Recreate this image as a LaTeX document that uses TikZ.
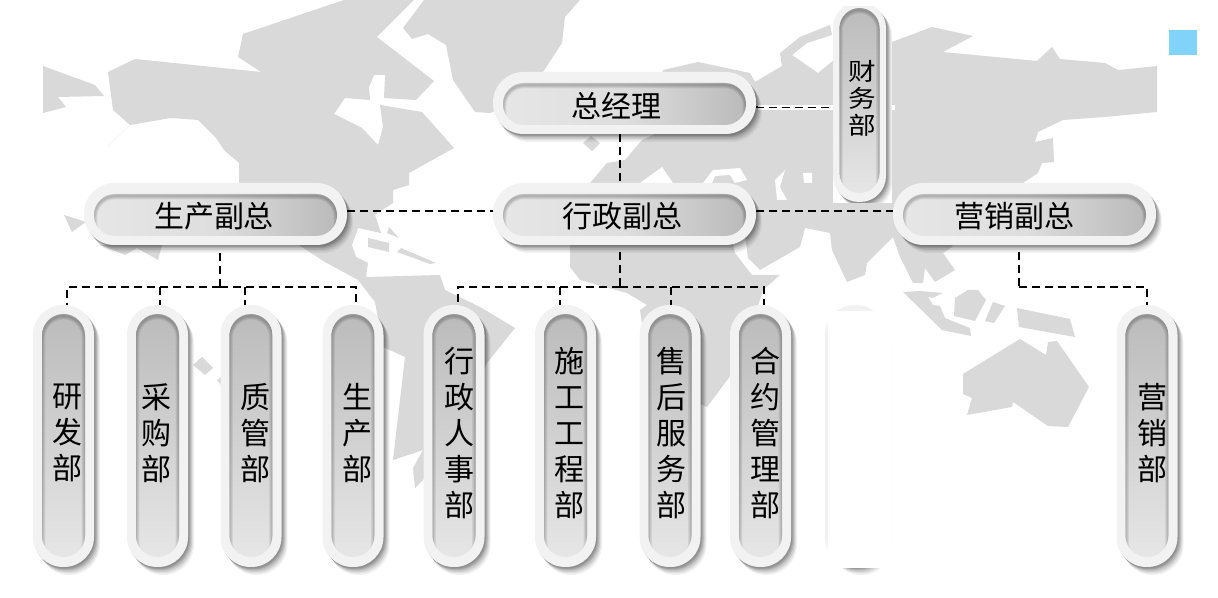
\documentclass[tikz,border=0pt]{standalone}
\usepackage{fontspec}
\newfontfamily\cjk{Noto Sans CJK SC}
\usetikzlibrary{calc}
\definecolor{mapgray}{HTML}{D9D9D9}
\definecolor{pillrim}{HTML}{F2F2F2}
\definecolor{pilllt}{HTML}{E6E6E6}
\definecolor{pilldk}{HTML}{BBBBBB}
\definecolor{tagblue}{HTML}{81D3F9}
\def\px{0.03cm}
\pgfdeclarehorizontalshading{pillh}{100bp}{rgb(0bp)=(.902,.902,.902); rgb(25bp)=(.902,.902,.902); rgb(50bp)=(.87,.87,.87); rgb(75bp)=(.73,.73,.73); rgb(100bp)=(.73,.73,.73)}
\newcommand{\pilloutline}[4]{(-#1,#2+#4) arc[start angle=180,end angle=270,radius=#4] -- (#1-#4,#2)
    arc[start angle=270,end angle=360,radius=#4] -- (#1,#3-#4)
    arc[start angle=0,end angle=90,radius=#4] -- (-#1+#4,#3)
    arc[start angle=90,end angle=180,radius=#4] -- cycle}
\newcommand{\pillface}[5]{%
    \begin{scope}[shift={(path picture bounding box.center)},rounded corners=0pt]
        \clip \pilloutline{#1}{#2}{#3}{#4};
        \fill[#5] (-#1,#2) rectangle (#1,#3);
        \foreach \k in {1,...,4}
            \draw[black,opacity=.06,line width=\k*1.7*\px] \pilloutline{#1}{#2+2}{#3+7}{#4};
    \end{scope}}
\begin{document}
\begin{tikzpicture}[
            x=\px, y=-\px,
            softshade/.style = {
                preaction={fill=black,opacity=.11,transform canvas={xshift=1*\px,yshift=-1.5*\px}},
                preaction={fill=black,opacity=.11,transform canvas={xshift=2*\px,yshift=-2.5*\px}},
                preaction={fill=black,opacity=.10,transform canvas={xshift=3*\px,yshift=-3.5*\px}},
                preaction={fill=black,opacity=.09,transform canvas={xshift=4*\px,yshift=-5*\px}},
                preaction={fill=black,opacity=.07,transform canvas={xshift=5*\px,yshift=-6.5*\px}},
                preaction={fill=black,opacity=.05,transform canvas={xshift=6*\px,yshift=-8*\px}}},
            pillhz/.style = {softshade, fill=pillrim, inner sep=0pt, rounded corners=30.5*\px,
                minimum width=263*\px, minimum height=62*\px,
                path picture={\pillface{121.5}{-20}{22}{21}{shading=pillh}}},
            pillvt/.style = {softshade, fill=pillrim, inner sep=0pt, rounded corners=30*\px,
                minimum width=61*\px, minimum height=262*\px,
                path picture={\pillface{21.5}{-122}{121}{21.5}{top color=pilldk,bottom color=pilllt}}},
            pillfin/.style = {softshade, fill=pillrim, inner sep=0pt, rounded corners=26*\px,
                minimum width=53*\px, minimum height=200*\px,
                path picture={\pillface{20}{-94}{91}{20}{top color=pilldk,bottom color=pilllt}}},
            lblhz/.style = {inner sep=0pt, font=\cjk\fontsize{25.6}{31}\selectfont},
            lblvt/.style = {inner sep=0pt, align=center, font=\cjk\fontsize{25.6}{30.7}\selectfont},
            lblfin/.style = {inner sep=0pt, align=center, xscale=1.15, transform shape, font=\cjk\fontsize{20.5}{23}\selectfont},
            link/.style = {line width=1.7*\px, dash pattern=on 8*\px off 5*\px}]
            \useasboundingbox (0,0) rectangle (1218,598);
            \fill[white] (0,0) rectangle (1218,598);
            % map
            \fill[mapgray] (43,66) -- (95,85) -- (104,96) -- (58,97) -- (66,107) -- (43,113) -- cycle;
            \fill[mapgray] (135,59) -- (261,72) -- (238,57) -- (243,34) -- (344,0) -- (414,0) -- (377,37)
                -- (434,81) -- (416,100) -- (384,98) -- (385,75) -- (374,75) -- (369,87) -- (370,100)
                -- (345,98) -- (334,114) -- (362,128) -- (378,145) -- (383,127) -- (380,105) -- (422,112)
                -- (454,148) -- (409,173) -- (409,185) -- (393,190) -- (393,203) -- (375,215) -- (381,233)
                -- (358,228) -- (352,245) -- (356,257) -- (368,263) -- (366,277) -- (440,275) -- (445,290)
                -- (480,307) -- (515,328) -- (487,363) -- (470,400) -- (445,440) -- (423,480) -- (415,488)
                -- (413,468) -- (423,450) -- (393,460) -- (405,357) -- (383,347) -- (375,302) -- (358,280)
                -- (325,262) -- (302,247) -- (260,220) -- (239,183) -- (239,163) -- (224,150) -- (216,138)
                -- (198,120) -- (171,118) -- (130,125) -- (108,146) -- (130,125) -- (113,110) -- (108,72) -- cycle;
            \fill[mapgray] (403,28) -- (424,0) -- (580,0) -- (565,17) -- (562,43) -- (543,72) -- (530,95)
                -- (490,113) -- (475,112) -- (453,80) -- (446,45) -- (428,34) -- (412,39) -- cycle;
            \fill[mapgray] (64,215) -- (86,222) -- (72,232) -- cycle;
            \fill[mapgray] (100,245) -- (125,255) -- (137,248) -- (158,260) -- (162,245) -- cycle;
            \fill[mapgray] (368,238) -- (389,243) -- (389,252) -- (368,247) -- cycle;
            \fill[mapgray] (401,248) -- (436,263) -- (430,264) -- (397,252) -- cycle;
            \fill[mapgray] (389,227) -- (399,238) -- (387,233) -- cycle;
            \fill[mapgray] (193,365) -- (202,357) -- (213,368) -- (205,375) -- cycle;
            \fill[mapgray] (217,380) -- (221,377) -- (221,385) -- cycle;
            \fill[mapgray] (583,143) -- (591,136) -- (600,143) -- (592,151) -- cycle;
            \fill[mapgray] (663,70) -- (698,62) -- (750,73) -- (755,82) -- (782,66) -- (780,53) -- (800,37)
                -- (830,25) -- (832,35) -- (807,43) -- (792,55) -- (818,73) -- (840,55) -- (892,42) -- (932,27)
                -- (973,36) -- (943,52) -- (1037,61) -- (1052,47) -- (1060,59) -- (1105,63) -- (1118,70)
                -- (1157,66) -- (1157,112) -- (1105,117) -- (1063,120) -- (1038,132) -- (1035,142) -- (1053,138)
                -- (1054,162) -- (1042,163) -- (1038,173) -- (1023,183) -- (960,225) -- (952,247) -- (943,253)
                -- (955,270) -- (935,282) -- (925,268) -- (923,283) -- (913,283) -- (900,257) -- (893,237)
                -- (867,263) -- (865,275) -- (847,282) -- (832,250) -- (830,233) -- (805,228) -- (800,247)
                -- (760,270) -- (748,258) -- (745,235) -- (600,245) -- (590,183) -- (607,163) -- (625,160)
                -- (642,140) -- (655,134) -- cycle;
            \fill[white] (662,167) -- (673,183) -- (640,183) -- cycle;
            \fill[white] (703,183) -- (713,170) -- (740,168) -- (747,180) -- (735,183) -- (730,175) -- (715,176) -- (712,183) -- cycle;
            \fill[white] (775,180) -- (785,170) -- (780,187) -- (787,200) -- (777,200) -- cycle;
            \fill[white] (803,173) -- (812,173) -- (812,183) -- (804,183) -- cycle;
            \fill[mapgray] (570,245) -- (570,267) -- (580,280) -- (627,293) -- (647,305) -- (640,310) -- (650,380)
                -- (698,403) -- (707,407) -- (740,363) -- (763,290) -- (780,275) -- (752,275) -- (735,253) -- (732,240) -- cycle;
            \fill[mapgray] (903,292) -- (920,291) -- (943,293) -- (932,298) -- (928,297) -- (933,305) -- (940,306)
                -- (945,318) -- (970,328) -- (971,336) -- (942,330) -- cycle;
            \fill[mapgray] (955,298) -- (968,290) -- (978,290) -- (986,300) -- (975,321) -- (954,316) -- cycle;
            \fill[mapgray] (993,302) -- (1005,306) -- (994,323) -- (985,321) -- cycle;
            \fill[mapgray] (1017,308) -- (1070,319) -- (1075,337) -- (1019,327) -- cycle;
            \fill[mapgray] (1020,339) -- (1046,355) -- (1048,342) -- (1057,341) -- (1089,387) -- (1068,427) -- (1048,426)
                -- (1013,402) -- (1012,407) -- (967,415) -- (972,398) -- (963,394) -- (963,374) -- cycle;
            \fill[tagblue] (1169,30) rectangle (1197,55);
            % white patches round the finance box
            \fill[white] (833,7) rectangle (892,203);
            \fill[white] (758,105) rectangle (833,110);
            \fill[white] (892,105) rectangle (895,110);
            \node[pillhz] (gm) at (624.5,103) {};
            \node[pillhz] (prod) at (215.5,214) {};
            \node[pillhz] (admin) at (624.5,214) {};
            \node[pillhz] (sales) at (1024.5,214) {};
            \begin{scope}
                \clip (833,7) rectangle (892,203);
                \node[pillfin] (fin) at (859.5,102) {};
            \end{scope}
            \foreach \n/\x in {rd/63.5,buy/157.5,qc/251,make/353,hr/454,build/565.5,care/670,deal/760.5,blank/855.5,mkt/1147}
                \node[pillvt] (\n) at (\x,436) {};
            \fill[white] (828,311) rectangle (892,568);
            \node[lblhz] (gmt) at (616,106) {总经理};
            \node[lblhz] (prodt) at (214,216.5) {生产副总};
            \node[lblhz] (admint) at (622.5,216.5) {行政副总};
            \node[lblhz] (salest) at (1014,216.5) {营销副总};
            \node[lblfin] (fint) at (862,98.5) {财\\务\\部};
            \foreach \n/\x/\t in {rd/67.5/研\\发\\部,buy/156/采\\购\\部,qc/255/质\\管\\部,make/357.5/生\\产\\部,
                    hr/459.5/行\\政\\人\\事\\部,build/569/施\\工\\工\\程\\部,care/671/售\\后\\服\\务\\部,
                    deal/765/合\\约\\管\\理\\部,mkt/1152/营\\销\\部}
                \node[lblvt] (\n t) at (\x,433) {\t};
            \coordinate (prodbus) at (220,287);
            \coordinate (adminbus) at (620,287);
            \coordinate (salesbus) at (1019,287);
            \draw[link] ([xshift=-4.5*\px]gm.south) -- ([xshift=-4.5*\px]admin.north);
            \draw[link] ([xshift=1*\px,yshift=-3*\px]gm.east) |- ([yshift=-0.5*\px]fin.west |- 0,107);
            \draw[link] ([yshift=3*\px]prod.east) -- ([yshift=3*\px]admin.west);
            \draw[link] ([yshift=3*\px]admin.east) -- ([yshift=3*\px]sales.west);
            \draw[link] ([xshift=4.5*\px,yshift=-8*\px]prod.south) -- (prodbus);
            \draw[link] ([xshift=-4.5*\px,yshift=-7*\px]admin.south) -- (adminbus);
            \draw[link] ([xshift=-5.5*\px,yshift=-7*\px]sales.south) -- (salesbus);
            \draw[link] (prodbus) -- (67,287) -- ([xshift=3.5*\px]rd.north);
            \draw[link] (prodbus) -- (356,287) -- ([xshift=3*\px]make.north);
            \draw[link] (160,287) -- ([xshift=2.5*\px]buy.north);
            \draw[link] (245,287) -- ([xshift=-6*\px]qc.north);
            \draw[link] (adminbus) -- (458,287) -- ([xshift=4*\px]hr.north);
            \draw[link] (adminbus) -- (764,287) -- ([xshift=3.5*\px]deal.north);
            \draw[link] (560,287) -- ([xshift=-5.5*\px]build.north);
            \draw[link] (671,287) -- ([xshift=1*\px]care.north);
            \draw[link] (salesbus) -- (1147,287) -- (mkt.north);
        \end{tikzpicture}
\end{document}
